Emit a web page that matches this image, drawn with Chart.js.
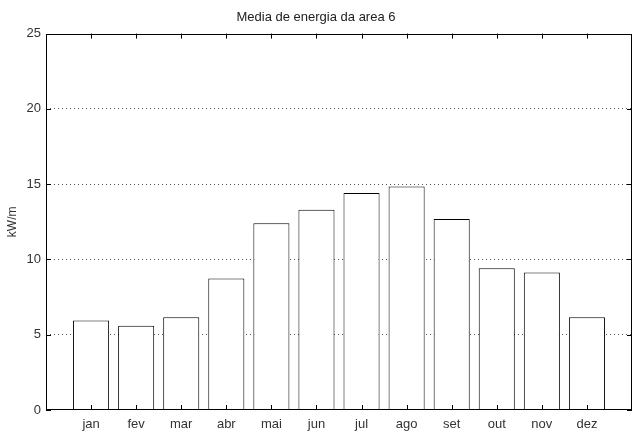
<!DOCTYPE html>
<html>
<head>
<meta charset="utf-8">
<script src="https://cdn.jsdelivr.net/npm/chart.js@4.4.0/dist/chart.umd.min.js"></script>
<style>
  html, body { margin: 0; padding: 0; background: #fff; }
  #wrap { width: 634px; height: 435px; }
</style>
</head>
<body>
<div id="wrap"><canvas id="grafico"></canvas></div>
<script>
var meses = ['jan', 'fev', 'mar', 'abr', 'mai', 'jun', 'jul', 'ago', 'set', 'out', 'nov', 'dez'];
var energia = [5.94, 5.6, 6.16, 8.73, 12.41, 13.3, 14.41, 14.85, 12.68, 9.42, 9.13, 6.16];
var yTicks = [0, 5, 10, 15, 20, 25];

var pontos = meses.map(function (m, i) { return { x: i + 1, y: energia[i] }; });

// caixa do eixo e marcas para dentro (estilo matlab)
var caixa = {
    id: 'caixa',
    afterDatasetsDraw: function (chart) {
        var c = chart.ctx, a = chart.chartArea;
        var xs = chart.scales.x, ys = chart.scales.y;
        c.save();
        c.strokeStyle = '#000';
        c.lineWidth = 1;
        c.strokeRect(Math.round(a.left) + 0.5, Math.round(a.top) + 0.5,
            Math.round(a.right - a.left) - 1, Math.round(a.bottom - a.top) - 1);
        c.beginPath();
        for (var i = 1; i <= meses.length; i++) {
            var px = Math.round(xs.getPixelForValue(i)) + 0.5;
            c.moveTo(px, a.top); c.lineTo(px, a.top + 5);
            c.moveTo(px, a.bottom); c.lineTo(px, a.bottom - 5);
        }
        yTicks.forEach(function (v) {
            var py = Math.round(ys.getPixelForValue(v)) + 0.5;
            c.moveTo(a.left, py); c.lineTo(a.left + 5, py);
            c.moveTo(a.right, py); c.lineTo(a.right - 5, py);
        });
        c.stroke();
        c.restore();
    }
};

var fonte = { family: 'Liberation Sans', size: 13 };

new Chart(document.getElementById('grafico'), {
    type: 'bar',
    data: {
        datasets: [{
            label: 'kW/m',
            data: pontos,
            backgroundColor: '#fff',
            borderColor: '#000',
            borderWidth: 1,
            categoryPercentage: 1,
            barPercentage: 0.8
        }]
    },
    options: {
        responsive: true,
        maintainAspectRatio: false,
        animation: false,
        layout: { padding: { left: 0, right: 2, top: 0, bottom: 0 } },
        plugins: {
            legend: { display: false },
            tooltip: { enabled: false },
            title: {
                display: true,
                text: 'Media de energia da area 6',
                color: '#222',
                font: { family: 'Liberation Sans', size: 13, weight: 'normal' },
                padding: { top: 10, bottom: 8 }
            }
        },
        scales: {
            x: {
                type: 'linear',
                offset: false,
                min: 0,
                max: 13,
                afterBuildTicks: function (s) {
                    s.ticks = meses.map(function (m, i) { return { value: i + 1 }; });
                },
                ticks: {
                    autoSkip: false,
                    maxRotation: 0,
                    padding: 7,
                    color: '#333',
                    font: fonte,
                    callback: function (v) { return meses[v - 1] || ''; }
                },
                grid: { display: false, drawTicks: false, offset: false },
                border: { display: false },
                afterFit: function (s) { s.height = 25; }
            },
            y: {
                min: 0,
                max: 25,
                afterBuildTicks: function (s) {
                    s.ticks = yTicks.map(function (v) { return { value: v }; });
                },
                ticks: {
                    padding: 5,
                    color: '#333',
                    font: fonte
                },
                grid: {
                    drawTicks: false,
                    color: function (c) {
                        return (c.tick && (c.tick.value === 0 || c.tick.value === 25)) ? 'rgba(0,0,0,0)' : '#555';
                    }
                },
                border: { display: false, dash: [1, 3] },
                title: {
                    display: true,
                    text: 'kW/m',
                    color: '#333',
                    font: { family: 'Liberation Sans', size: 12 },
                    padding: { top: 5, bottom: 0 }
                },
                afterFit: function (s) { s.width = 46; }
            }
        }
    },
    plugins: [caixa]
});
</script>
</body>
</html>
